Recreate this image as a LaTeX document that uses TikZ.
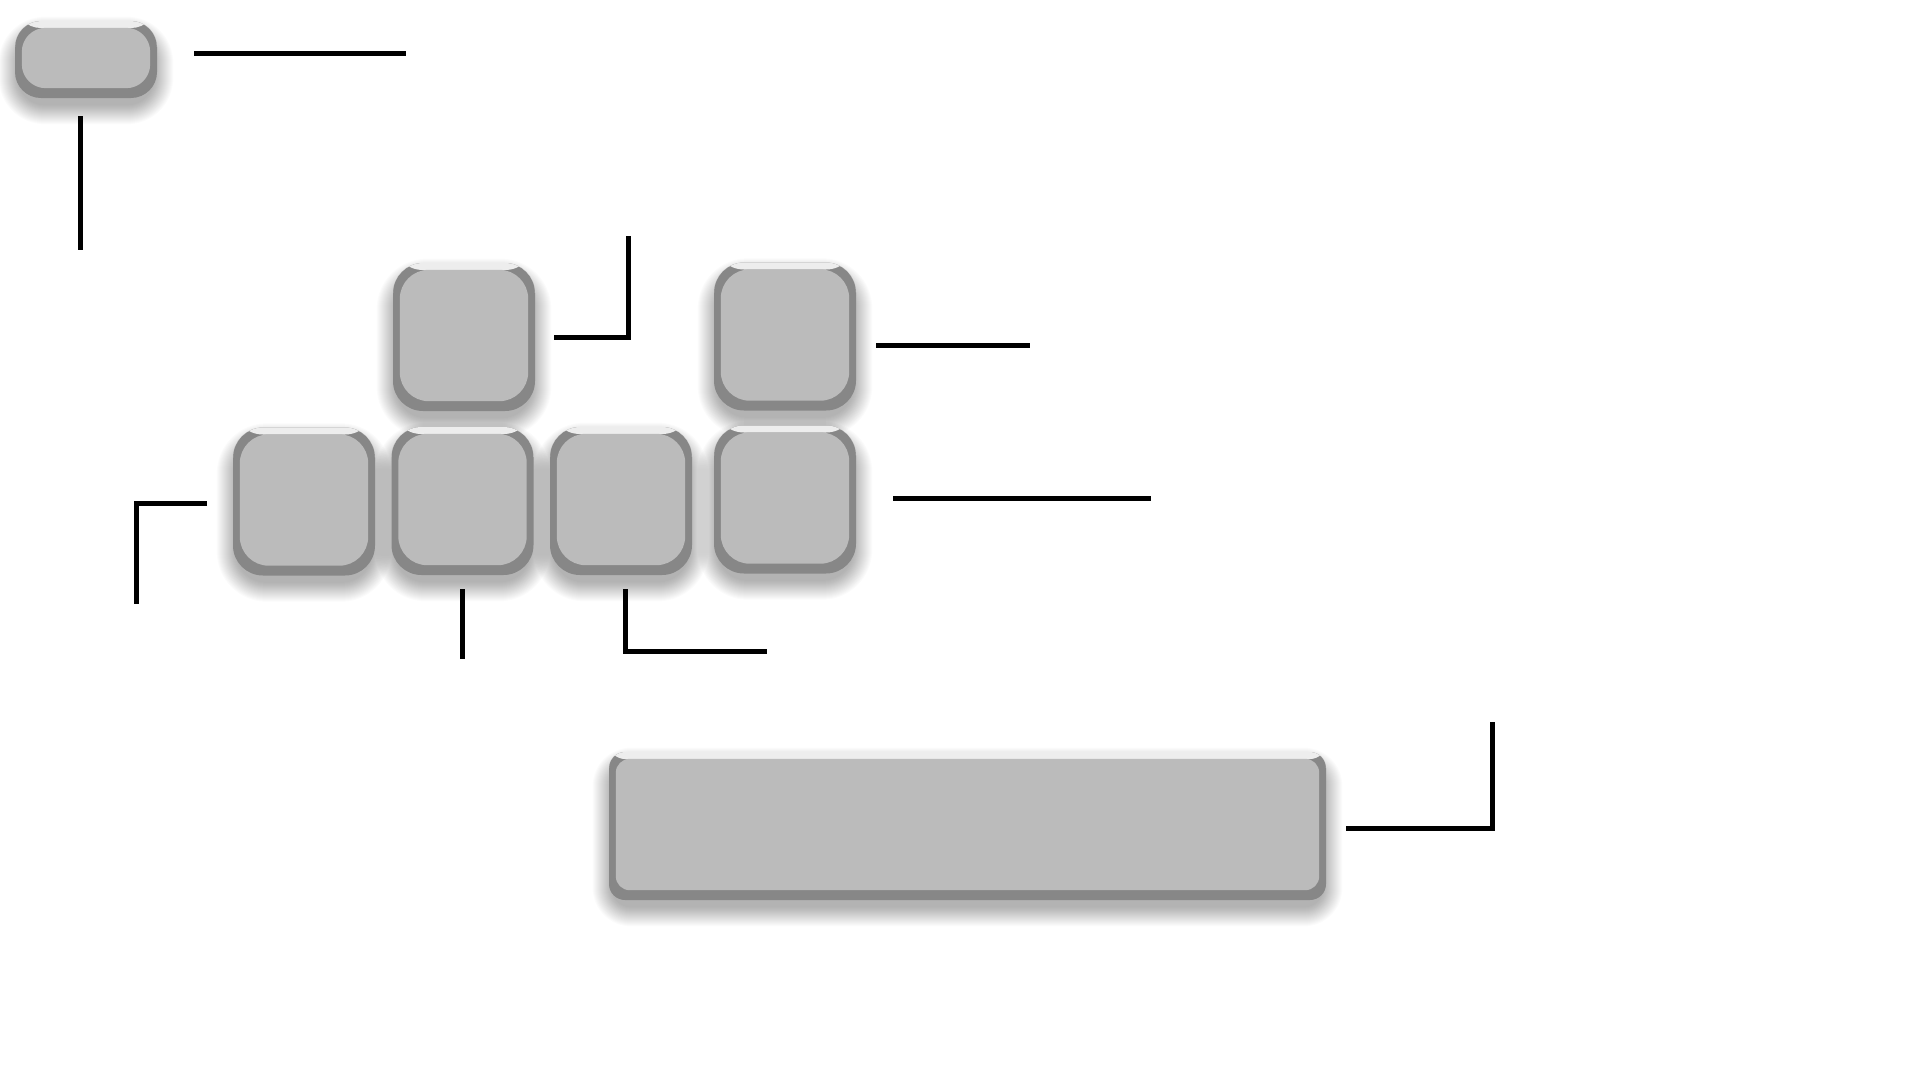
\documentclass[tikz,border=0pt]{standalone}
\usetikzlibrary{calc,backgrounds}
\definecolor{keyface}{HTML}{BBBBBB}
\definecolor{keyrim}{HTML}{878787}
\definecolor{keyhl}{HTML}{EDEDED}
\tikzset{
  keybody/.style={rectangle, rounded corners=30pt, inner sep=0pt, fill=keyrim,
    path picture={\fill[keyhl] (path picture bounding box.north west) rectangle ([yshift=-7pt]path picture bounding box.north east);}},
  keysq/.style={keybody, minimum width=142pt, minimum height=148pt},
  facefill/.style={fill=keyface, rounded corners=29pt},
  softshade/.style={fill=black, opacity=0.016},
  leader/.style={line width=5pt, line cap=butt, line join=miter, draw=black}
}
\begin{document}
\begin{tikzpicture}[x=1pt,y=-1pt]
\useasboundingbox (0,0) rectangle (1920,1080);
% keys
\node[keybody, minimum width=142pt, minimum height=77pt, rounded corners=26pt] (esc) at (86,59.5) {};
\node[keysq] (t2) at (464,337) {};
\node[keysq] (tr) at (785,336.5) {};
\node[keysq] (b1) at (304,501.5) {};
\node[keysq] (b2) at (462.5,501) {};
\node[keysq] (b3) at (621,501) {};
\node[keysq] (b4) at (785,499.5) {};
\node[keybody, rounded corners=16pt, minimum width=717pt, minimum height=148pt] (sp) at (967.5,826) {};
% soft shadows
\begin{scope}[on background layer]
\fill[white] (0,0) rectangle (1920,1080);
\foreach \k/\r in {esc/26,t2/30,tr/30,b1/30,b2/30,b3/30,b4/30,sp/18}{
  \foreach \s in {1,...,20}{
    \fill[softshade, rounded corners=\r pt+\s pt]
      ($(\k.north west)+(-\s+4,-\s+16)$) rectangle ($(\k.south east)+(\s-4,\s+6)$);
  }
}
\end{scope}
% faces
\fill[facefill, rounded corners=24pt] ([xshift=7pt,yshift=-7pt]esc.north west) rectangle ([xshift=-7pt,yshift=10pt]esc.south east);
\foreach \k in {t2,tr,b1,b2,b3,b4}{
  \fill[facefill] ([xshift=7pt,yshift=-7pt]\k.north west) rectangle ([xshift=-7pt,yshift=10pt]\k.south east);
}
\fill[facefill, rounded corners=14pt] ([xshift=7pt,yshift=-7pt]sp.north west) rectangle ([xshift=-7pt,yshift=10pt]sp.south east);
% leader line coordinates
\coordinate (a1) at (194,53); \coordinate (a2) at (406,53);
\coordinate (b1a) at (80,116); \coordinate (b1b) at (80,250);
\coordinate (c1) at (554,337); \coordinate (c2) at (628,337); \coordinate (c3) at (628,236);
\coordinate (d1) at (876,345); \coordinate (d2) at (1030,345);
\coordinate (e1) at (893,498); \coordinate (e2) at (1151,498);
\coordinate (f1) at (207,503); \coordinate (f2) at (136,503); \coordinate (f3) at (136,604);
\coordinate (g1) at (462,589); \coordinate (g2) at (462,659);
\coordinate (h1) at (625,589); \coordinate (h2) at (625,651); \coordinate (h3) at (767,651);
\coordinate (i1) at (1346,828); \coordinate (i2) at (1492,828); \coordinate (i3) at (1492,722);
\draw[leader] (a1) -- (a2);
\draw[leader] (b1a) -- (b1b);
\draw[leader] (c1) -- (c2) -- (c3);
\draw[leader] (d1) -- (d2);
\draw[leader] (e1) -- (e2);
\draw[leader] (f1) -- (f2) -- (f3);
\draw[leader] (g1) -- (g2);
\draw[leader] (h1) -- (h2) -- (h3);
\draw[leader] (i1) -- (i2) -- (i3);
\end{tikzpicture}
\end{document}
